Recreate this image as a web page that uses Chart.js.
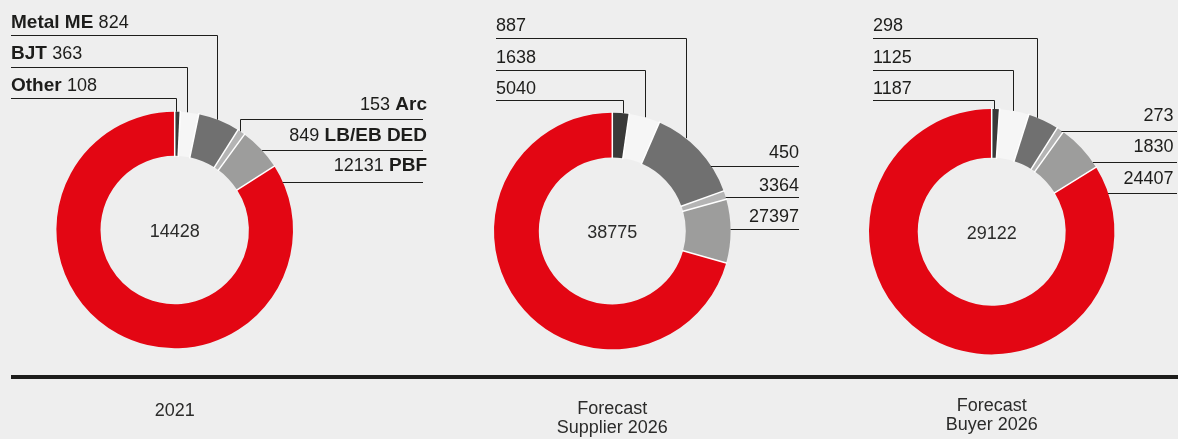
<!DOCTYPE html>
<html>
<head>
<meta charset="utf-8">
<title>Metal AM technologies</title>
<script src="https://cdn.jsdelivr.net/npm/chart.js@4.4.0/dist/chart.umd.min.js"></script>
<style>
  html, body { margin: 0; padding: 0; background: #eeeeee; }
  #page { position: relative; width: 1178px; height: 439px; overflow: hidden; }
  #page canvas { position: absolute; left: 0; top: 0; }
  #rule { position: absolute; left: 11px; top: 375px; width: 1167px; height: 4px; background: #1d1d1b; }
</style>
</head>
<body>
<div id="page">
  <canvas id="chart2021" width="1178" height="439"></canvas>
  <canvas id="chartSupplier" width="1178" height="439"></canvas>
  <canvas id="chartBuyer" width="1178" height="439"></canvas>
  <div id="rule"></div>
</div>
<script>
// Segments, clockwise from 12 o'clock
const segments = ['Other', 'BJT', 'Metal ME', 'Arc', 'LB/EB DED', 'PBF'];
const values2021 = [108, 363, 824, 153, 849, 12131];
const valuesSupplier2026 = [887, 1638, 5040, 450, 3364, 27397];
const valuesBuyer2026 = [298, 1125, 1187, 273, 1830, 24407];
const totals = [14428, 38775, 29122];
const titles = [['2021'], ['Forecast', 'Supplier 2026'], ['Forecast', 'Buyer 2026']];

const segmentColors = ['#3a3a39', '#f6f6f6', '#707070', '#b4b4b4', '#9d9d9c', '#e30613'];
const INK = '#1d1d1b';
const FONT = '"Liberation Sans", Arial, Helvetica, sans-serif';
const W = 1178, H = 439;

// Where each donut sits and how its call-outs are laid out
const layouts = [
  {
    cx: 174.7, cy: 230, r: 118.3, inner: 74.2, named: true,
    left: { x: 11, rows: [
      { idx: 2, textY: 27.7, lineY: 35, angle: 21.1 },
      { idx: 1, textY: 59.3, lineY: 66.7, angle: 5.8 },
      { idx: 0, textY: 90.7, lineY: 97.7, angle: 0.6 }
    ] },
    right: { textX: 427, lineEnd: 423, rows: [
      { idx: 3, textY: 110, lineY: 119, angle: 33.5 },
      { idx: 4, textY: 140.5, lineY: 150.3, angle: null },
      { idx: 5, textY: 171, lineY: 181.7, angle: null }
    ] },
    titleY: [416]
  },
  {
    cx: 612.3, cy: 231, r: 118.3, inner: 73.5, named: false,
    left: { x: 496, rows: [
      { idx: 0, textY: 30.7, lineY: 38.3, angle: 38.3 },
      { idx: 1, textY: 62.7, lineY: 70, angle: 15.9 },
      { idx: 2, textY: 94, lineY: 100, angle: 5.3 }
    ] },
    right: { textX: 799, lineEnd: 799, rows: [
      { idx: 3, textY: 158.3, lineY: 165.7, angle: null },
      { idx: 4, textY: 190.7, lineY: 197.3, angle: null },
      { idx: 5, textY: 221.7, lineY: 228.7, angle: null }
    ] },
    titleY: [414.3, 433.3]
  },
  {
    cx: 991.7, cy: 231.7, r: 122.7, inner: 74, named: false,
    left: { x: 873, rows: [
      { idx: 0, textY: 30.7, lineY: 38.3, angle: 21.8 },
      { idx: 1, textY: 62.7, lineY: 70, angle: 10 },
      { idx: 2, textY: 94, lineY: 100, angle: 1.2 }
    ] },
    right: { textX: 1173.5, lineEnd: 1177, rows: [
      { idx: 3, textY: 120.7, lineY: 130.7, angle: null },
      { idx: 4, textY: 152.3, lineY: 162.3, angle: null },
      { idx: 5, textY: 184.3, lineY: 192.7, angle: null }
    ] },
    titleY: [411.3, 430.3]
  }
];

const crisp = (v) => Math.round(v) + 0.5;

// White separators between slices, leader lines, call-out text, total and title
const donutDecor = {
  id: 'donutDecor',
  afterDatasetsDraw(chart, args, opts) {
    const ctx = chart.ctx;
    const arcs = chart.getDatasetMeta(0).data;
    const { x: cx, y: cy, outerRadius: r, innerRadius: ri } = arcs[0];
    const values = chart.data.datasets[0].data;
    const lay = opts.layout;

    ctx.save();
    ctx.strokeStyle = '#ffffff';
    ctx.lineWidth = 1.5;
    arcs.forEach((arc) => {
      const a = arc.startAngle;
      ctx.beginPath();
      ctx.moveTo(cx + (ri - 1) * Math.cos(a), cy + (ri - 1) * Math.sin(a));
      ctx.lineTo(cx + (r + 1) * Math.cos(a), cy + (r + 1) * Math.sin(a));
      ctx.stroke();
    });

    // leader lines
    ctx.strokeStyle = INK;
    ctx.lineWidth = 1;
    const target = (deg) => {
      const t = deg * Math.PI / 180;
      return { x: cx + r * Math.sin(t), y: cy - r * Math.cos(t) };
    };
    lay.left.rows.forEach((row) => {
      const p = target(row.angle);
      const y = crisp(row.lineY), x = crisp(p.x);
      ctx.beginPath();
      ctx.moveTo(lay.left.x, y);
      ctx.lineTo(x, y);
      ctx.lineTo(x, p.y);
      ctx.stroke();
    });
    lay.right.rows.forEach((row) => {
      const y = crisp(row.lineY);
      ctx.beginPath();
      ctx.moveTo(lay.right.lineEnd, y);
      if (row.angle === null) {
        const dy = row.lineY - cy;
        ctx.lineTo(cx + Math.sqrt(r * r - dy * dy), y);
      } else {
        const p = target(row.angle);
        ctx.lineTo(crisp(p.x), y);
        ctx.lineTo(crisp(p.x), p.y);
      }
      ctx.stroke();
    });

    // call-out text
    const regular = '18px ' + FONT;
    const bold = 'bold 19px ' + FONT;
    ctx.fillStyle = INK;
    ctx.textBaseline = 'alphabetic';
    lay.left.rows.forEach((row) => {
      const value = String(values[row.idx]);
      ctx.textAlign = 'left';
      let x = lay.left.x;
      if (lay.named) {
        ctx.font = bold;
        const name = segments[row.idx] + ' ';
        ctx.fillText(name, x, row.textY);
        x += ctx.measureText(name).width;
      }
      ctx.font = regular;
      ctx.fillText(value, x, row.textY);
    });
    lay.right.rows.forEach((row) => {
      const value = String(values[row.idx]);
      ctx.textAlign = 'right';
      let x = lay.right.textX;
      if (lay.named) {
        ctx.font = bold;
        const name = ' ' + segments[row.idx];
        ctx.fillText(name, x, row.textY);
        x -= ctx.measureText(name).width;
      }
      ctx.font = regular;
      ctx.fillText(value, x, row.textY);
    });

    // total in the hole
    ctx.textAlign = 'center';
    ctx.font = regular;
    ctx.fillStyle = '#2b2b2a';
    ctx.fillText(String(opts.total), cx, cy + 7);

    // title under the rule
    opts.title.forEach((line, i) => {
      ctx.fillText(line, cx, lay.titleY[i]);
    });
    ctx.restore();
  }
};

function drawDonut(canvasId, values, i) {
  const lay = layouts[i];
  return new Chart(document.getElementById(canvasId), {
    type: 'doughnut',
    data: {
      labels: segments,
      datasets: [{
        data: values,
        backgroundColor: segmentColors,
        borderWidth: 0,
        hoverOffset: 0,
        offset: 0
      }]
    },
    options: {
      responsive: false,
      animation: false,
      events: [],
      cutout: lay.inner,
      layout: {
        padding: {
          left: lay.cx - lay.r,
          top: lay.cy - lay.r,
          right: W - lay.cx - lay.r,
          bottom: H - lay.cy - lay.r
        }
      },
      plugins: {
        legend: { display: false },
        tooltip: { enabled: false },
        donutDecor: { layout: lay, total: totals[i], title: titles[i] }
      }
    },
    plugins: [donutDecor]
  });
}

drawDonut('chart2021', values2021, 0);
drawDonut('chartSupplier', valuesSupplier2026, 1);
drawDonut('chartBuyer', valuesBuyer2026, 2);
</script>
</body>
</html>
